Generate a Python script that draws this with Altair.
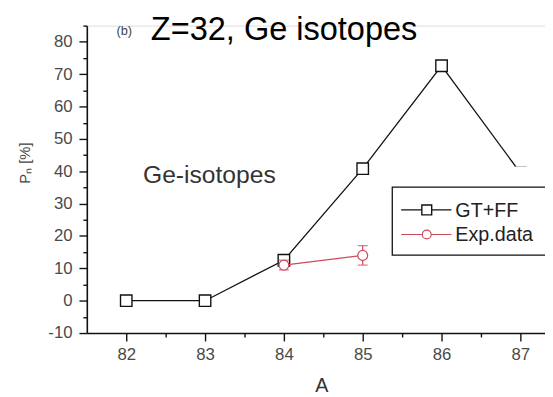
import altair as alt
import pandas as pd

# ---- data ----
A_gt = [82, 83, 84, 85, 86, 87]
P_gt = [0, 0, 12.5, 40.8, 72.6, 39.5]
A_exp = [84, 85]
P_exp = [11, 14]
P_exp_err = [1.5, 3]
x_ticks = [82, 82.5, 83, 83.5, 84, 84.5, 85, 85.5, 86, 86.5, 87]
y_ticks = [-10, -5, 0, 5, 10, 15, 20, 25, 30, 35, 40, 45, 50, 55, 60, 65, 70, 75, 80, 85]
series = ["GT+FF", "Exp.data"]
title_text = "Z=32, Ge isotopes"
panel_tag = "(b)"
inner_label = "Ge-isotopes"
x_title = "A"
y_title = "P\u2099 [%]"

gt = pd.DataFrame({"A": A_gt, "P": P_gt})
exp = pd.DataFrame({
    "A": A_exp,
    "P": P_exp,
    "lo": [p - e for p, e in zip(P_exp, P_exp_err)],
    "hi": [p + e for p, e in zip(P_exp, P_exp_err)],
})
one = pd.DataFrame({"k": [0]})

FONT = "Liberation Sans"
RED = "#cc4a5c"

xs = alt.Scale(domain=[81.5, 87.3125], nice=False, zero=False)
ys = alt.Scale(domain=[-10, 85], nice=False, zero=False)

xaxis = alt.Axis(
    values=x_ticks,
    labelExpr="datum.value % 1 === 0 ? '' + datum.value : ''",
    tickSize={"condition": {"test": "datum.value % 1 === 0", "value": 8}, "value": 4},
    grid=False, labelOverlap=False, labelFlush=False,
    labelFont=FONT, labelFontSize=17, labelColor="#4a4a4a", labelPadding=6,
    domainColor="#111", domainWidth=1.6, tickColor="#111", tickWidth=1.4,
    title=x_title, titleFont=FONT, titleFontSize=20, titleFontWeight="normal",
    titleColor="#333", titleX=238, titleY=59, titleBaseline="alphabetic",
)
yaxis = alt.Axis(
    values=y_ticks,
    labelExpr="datum.value % 10 === 0 ? '' + datum.value : ''",
    tickSize={"condition": {"test": "datum.value % 10 === 0", "value": 8}, "value": 4},
    grid=False, labelOverlap=False, labelFlush=False,
    labelFont=FONT, labelFontSize=17, labelColor="#4a4a4a", labelPadding=7,
    domainColor="#111", domainWidth=1.6, tickColor="#111", tickWidth=1.4,
    title=y_title, titleFont=FONT, titleFontSize=15, titleFontWeight="normal",
    titleColor="#444", titleX=-63, titleY=139, titleAngle=270,
    titleAlign="center", titleBaseline="middle",
)

X = alt.X("A:Q", scale=xs, axis=xaxis)
Y = alt.Y("P:Q", scale=ys, axis=yaxis)

gt_line = alt.Chart(gt).mark_line(color="#111", strokeWidth=1.3).encode(x=X, y=Y)
gt_pts = alt.Chart(gt).mark_point(shape="square", size=135, filled=False, fill="white",
                                  fillOpacity=1, color="#111", strokeWidth=1.4).encode(x=X, y=Y)

exp_line = alt.Chart(exp).mark_line(color=RED, strokeWidth=1.1).encode(x=X, y=Y)
exp_bar = alt.Chart(exp).mark_rule(color=RED, strokeWidth=1.2).encode(
    x=X, y=alt.Y("lo:Q", scale=ys, axis=yaxis), y2="hi:Q")
exp_cap_lo = alt.Chart(exp).mark_tick(color=RED, orient="horizontal", size=10, thickness=1.3).encode(
    x=X, y=alt.Y("lo:Q", scale=ys, axis=yaxis))
exp_cap_hi = alt.Chart(exp).mark_tick(color=RED, orient="horizontal", size=10, thickness=1.3).encode(
    x=X, y=alt.Y("hi:Q", scale=ys, axis=yaxis))
exp_pts = alt.Chart(exp).mark_point(shape="circle", size=100, filled=False, fill="white",
                                    fillOpacity=1, color=RED, strokeWidth=1.2).encode(x=X, y=Y)

# ---- legend (drawn by hand) ----
base1 = alt.Chart(one)
occluder = base1.mark_rect(fill="white", stroke=None).encode(
    x=alt.value(310), x2=alt.value(470), y=alt.value(143), y2=alt.value(164))
leg_box = base1.mark_rect(fill="white", stroke="#111", strokeWidth=1.3).encode(
    x=alt.value(310), x2=alt.value(470), y=alt.value(164), y2=alt.value(233))
leg_line1 = base1.mark_rule(color="#111", strokeWidth=1.3).encode(
    x=alt.value(319), x2=alt.value(370), y=alt.value(187))
leg_sym1 = base1.mark_point(shape="square", size=100, filled=False, fill="white", fillOpacity=1,
                            color="#111", strokeWidth=1.4).encode(x=alt.value(345), y=alt.value(187))
leg_txt1 = base1.mark_text(text=series[0], align="left", baseline="alphabetic", font=FONT,
                           fontSize=20, color="#222").encode(x=alt.value(374), y=alt.value(194))
leg_line2 = base1.mark_rule(color=RED, strokeWidth=1.1).encode(
    x=alt.value(319), x2=alt.value(370), y=alt.value(212))
leg_sym2 = base1.mark_point(shape="circle", size=81, filled=False, fill="white", fillOpacity=1,
                            color=RED, strokeWidth=1.2).encode(x=alt.value(345), y=alt.value(212))
leg_txt2 = base1.mark_text(text=series[1], align="left", baseline="alphabetic", font=FONT,
                           fontSize=20, color="#222").encode(x=alt.value(374), y=alt.value(219))

# ---- texts ----
title = base1.mark_text(text=title_text, align="left", baseline="alphabetic", font=FONT,
                        fontSize=33, color="#000").encode(x=alt.value(65), y=alt.value(15))
tag = base1.mark_text(text=panel_tag, align="left", baseline="alphabetic", font=FONT,
                      fontSize=13, color="#444").encode(x=alt.value(30), y=alt.value(10))
inner = base1.mark_text(text=inner_label, align="left", baseline="alphabetic", font=FONT,
                        fontSize=25, color="#333").encode(x=alt.value(57), y=alt.value(160))

chart = alt.layer(
    gt_line, gt_pts, exp_line, exp_bar, exp_cap_lo, exp_cap_hi, exp_pts,
    occluder, leg_box, leg_line1, leg_sym1, leg_txt1, leg_line2, leg_sym2, leg_txt2,
    title, tag, inner,
).properties(
    width=465, height=312,
    autosize=alt.AutoSizeParams(type="none"),
    padding={"left": 80, "top": 15, "right": 0, "bottom": 62},
).configure_view(stroke=None).configure(background="white")

chart.save("out.html", embed_options={"renderer": "svg", "actions": False})
